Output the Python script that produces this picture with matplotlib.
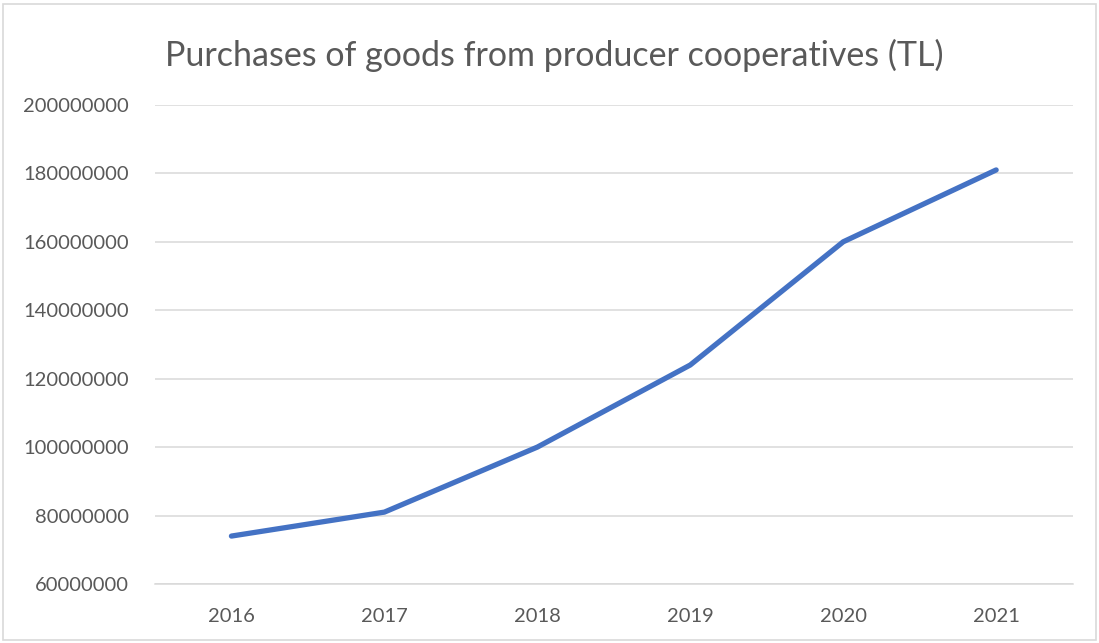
import matplotlib
matplotlib.use("Agg")
from matplotlib import pyplot as plt
from matplotlib.patches import Rectangle

# values
years = ['2016', '2017', '2018', '2019', '2020', '2021']
purchases = [74000000, 81000000, 100000000, 124000000, 160000000, 181000000]
y_ticks = [60000000, 80000000, 100000000, 120000000, 140000000, 160000000, 180000000, 200000000]

plt.rcParams['font.family'] = ['Lato', 'DejaVu Sans']

fig = plt.figure(figsize=(10.99, 6.43), dpi=100)
ax = fig.add_axes([0.141, 0.0918, 0.835, 0.745])

x = range(len(years))
ax.plot(x, purchases, color='#4472C4', linewidth=3.8, solid_capstyle='round',
        solid_joinstyle='round', zorder=3)

ax.set_xlim(-0.5, len(years) - 0.5)
ax.set_ylim(y_ticks[0], y_ticks[-1])
ax.set_xticks(list(x))
ax.set_xticklabels(years)
ax.set_yticks(y_ticks)
ax.set_yticklabels([str(v) for v in y_ticks])

ax.grid(axis='y', color='#D9D9D9', linewidth=1.1)
ax.set_axisbelow(True)
for side in ['top', 'right', 'left']:
    ax.spines[side].set_visible(False)
ax.spines['bottom'].set_color('#D9D9D9')
ax.spines['bottom'].set_linewidth(1.1)
ax.tick_params(axis='both', length=0, labelsize=14.5, colors='#595959')
ax.tick_params(axis='x', pad=17)
ax.tick_params(axis='y', pad=19)

fig.text(0.504, 0.914, 'Purchases of goods from producer cooperatives (TL)',
         ha='center', va='center', fontsize=24.5, color='#595959')

# light frame around the chart area
fig.patches.append(Rectangle((0.003, 0.004), 0.994, 0.99, transform=fig.transFigure,
                             fill=False, edgecolor='#D9D9D9', linewidth=1.2))

fig.savefig('out.png', dpi=100)
